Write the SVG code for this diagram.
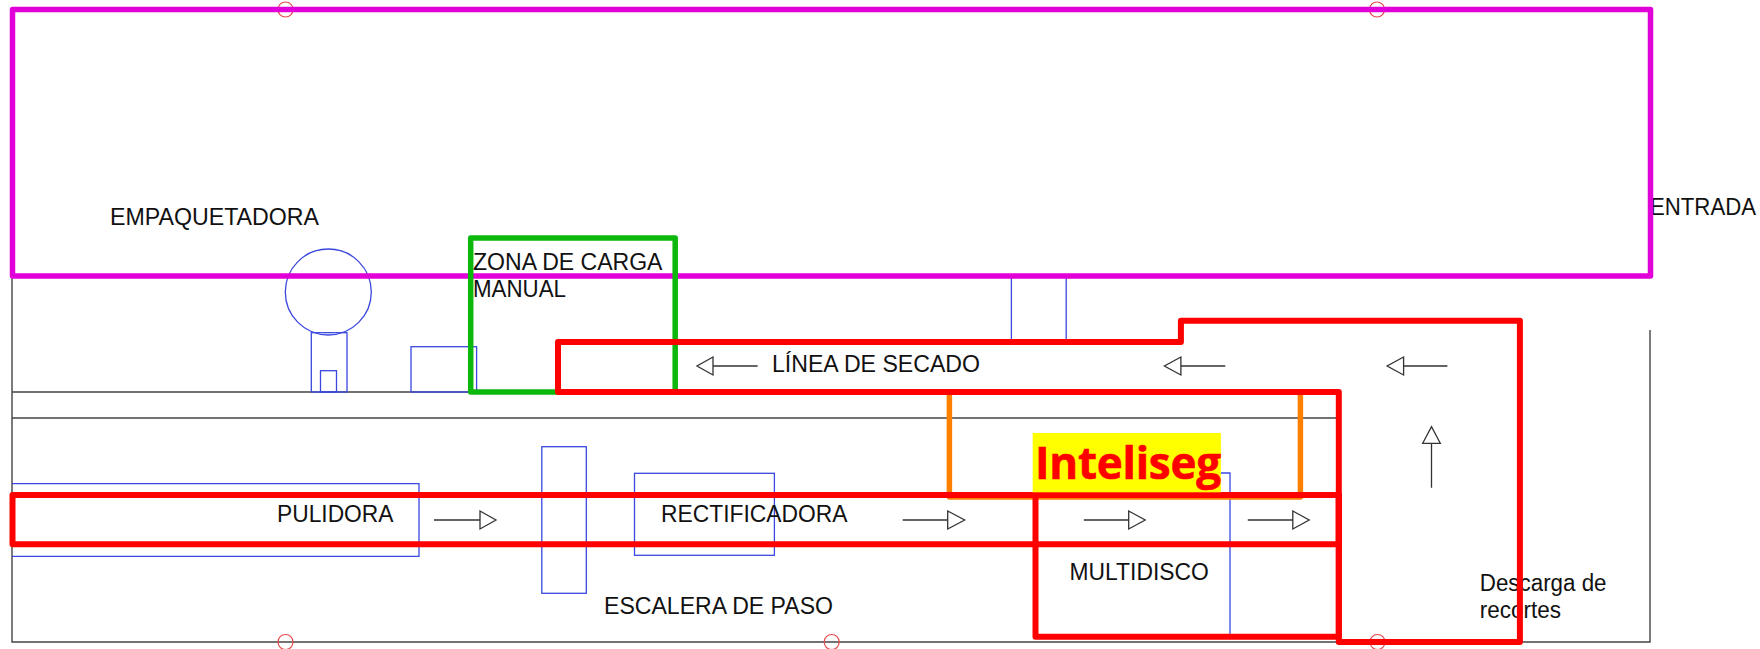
<svg xmlns="http://www.w3.org/2000/svg" width="1760" height="649" viewBox="0 0 1760 649">
<style>
text{font-family:"Liberation Sans",Arial,sans-serif;font-size:23px;fill:#111}
.k{fill:none;stroke:#444;stroke-width:1.4}
.b{fill:none;stroke:#3a48e0;stroke-width:1.3}
.c{fill:none;stroke:#e8484c;stroke-width:1.2}
.a{fill:none;stroke:#333;stroke-width:1.3}
.t{fill:none;stroke-width:5.500;stroke-linejoin:round}
.r{stroke:#ff0000;stroke-width:6}
</style>
<rect width="1760" height="649" fill="#fff"/>
<g id="plan-walls">
<path class="k" d="M12 276V642H1650V330"/>
<path class="k" d="M12 392H1000M12 418H1337"/>
</g>
<g id="machines">
<circle class="b" cx="328.300" cy="292" r="43"/>
<rect class="b" x="311.300" y="332.700" width="35.700" height="59.300"/>
<rect class="b" x="320.500" y="370.700" width="16" height="21.300"/>
<rect class="b" x="411" y="346.700" width="65.600" height="45.300"/>
<path class="b" d="M1011.400 276V342M1066.200 276V342"/>
<path class="b" d="M12 483.700H419V556.300H12"/>
<rect class="b" x="541.800" y="446.700" width="44.500" height="146.600"/>
<rect class="b" x="634.500" y="473.300" width="139.900" height="82"/>
<path class="b" d="M1036 473H1230V636"/>
</g>
<g id="connectors">
<g id="arrows">
<path class="a" d="M434 520H480M480 511L496 520L480 529Z"/>
<path class="a" d="M902.700 520H947.700M947.700 511L964.700 520L947.700 529Z"/>
<path class="a" d="M1083.800 520H1128.700M1128.700 511L1145.200 520L1128.700 529Z"/>
<path class="a" d="M1247.800 520H1292.800M1292.800 511L1309.200 520L1292.800 529Z"/>
<path class="a" d="M757.600 366H713M713 357L697 366L713 375Z"/>
<path class="a" d="M1225.300 366H1180.900M1180.900 357L1164.400 366L1180.900 375Z"/>
<path class="a" d="M1447.400 366H1403.600M1403.600 357L1387.100 366L1403.600 375Z"/>
<path class="a" d="M1431.500 487.700V443.300M1422.700 443.300L1431.500 426.700L1440.300 443.300Z"/>
</g>
</g>
<g id="labels">
<text x="110" y="225" textLength="209" lengthAdjust="spacingAndGlyphs">EMPAQUETADORA</text>
<text x="277" y="521.700" textLength="116.500" lengthAdjust="spacingAndGlyphs">PULIDORA</text>
<text x="661" y="522" textLength="186.400" lengthAdjust="spacingAndGlyphs">RECTIFICADORA</text>
<text x="604" y="614.300" textLength="229" lengthAdjust="spacingAndGlyphs">ESCALERA DE PASO</text>
<text x="772" y="371.700" textLength="208" lengthAdjust="spacingAndGlyphs">LÍNEA DE SECADO</text>
<text x="1069.500" y="580" textLength="139.300" lengthAdjust="spacingAndGlyphs">MULTIDISCO</text>
<text x="1479.800" y="590.700" textLength="126.700" lengthAdjust="spacingAndGlyphs">Descarga de</text>
<text x="1479.800" y="617.700" textLength="81.200" lengthAdjust="spacingAndGlyphs">recortes</text>
<text x="1650" y="215" textLength="106" lengthAdjust="spacingAndGlyphs">ENTRADA</text>
</g>
<g id="grid-marks">
<circle class="c" cx="285.500" cy="9.500" r="7.500"/>
<circle class="c" cx="1377" cy="9.500" r="7.500"/>
<circle class="c" cx="285.500" cy="642" r="7.500"/>
<circle class="c" cx="831.700" cy="642" r="7.500"/>
<circle class="c" cx="1377.500" cy="642" r="7.500"/>
</g>
<g id="zone-empaquetadora"><rect class="t" x="12.500" y="9.500" width="1638" height="266.500" stroke="#e100d8"/></g>
<g id="zone-carga"><rect class="t" x="470.700" y="238" width="204.500" height="154" stroke="#0bb80b"/></g>
<g id="zone-carga-label">
<text x="473" y="270" textLength="189.500" lengthAdjust="spacingAndGlyphs">ZONA DE CARGA</text>
<text x="473" y="297.300" textLength="93" lengthAdjust="spacingAndGlyphs">MANUAL</text>
</g>
<g id="zone-inteliseg"><path class="t" d="M949.400 392V497H1300.400V392" stroke="#ff8000"/></g>
<g id="zone-secado"><path class="t r" d="M558 342H1180.900V320.700H1519.900V642H1338.800V392H558Z"/></g>
<g id="zone-multidisco"><rect class="t r" x="1035.500" y="495" width="303.300" height="141.700"/></g>
<g id="zone-pulidora"><rect class="t r" x="12.500" y="495" width="1326.300" height="49.300"/></g>
<g id="watermark">
<rect x="1032.700" y="433" width="188.200" height="59.300" fill="#ffff00"/>
<text x="1035" y="479.300" style="font-family:'Open Sans','Noto Sans',sans-serif;font-size:44px;font-weight:700;fill:#ff0000;stroke:#ff0000;stroke-width:0.600" textLength="186" lengthAdjust="spacing">Inteliseg</text>
</g>
</svg>
